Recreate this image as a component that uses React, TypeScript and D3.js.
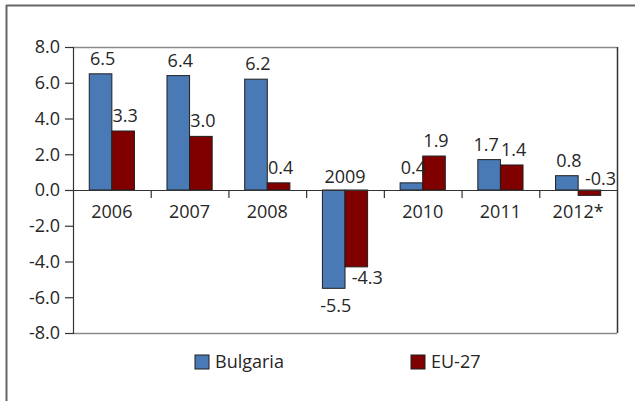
import React from "react";
import * as d3 from "d3";

const categories = ["2006", "2007", "2008", "2009", "2010", "2011", "2012*"];
const seriesNames = ["Bulgaria", "EU-27"];
const bulgaria = [6.5, 6.4, 6.2, -5.5, 0.4, 1.7, 0.8];
const eu27 = [3.3, 3.0, 0.4, -4.3, 1.9, 1.4, -0.3];
const yTicks = [8, 6, 4, 2, 0, -2, -4, -6, -8];

const colors = ["#4a7ab5", "#800000"];
const W = 635, H = 401;
const plot = { left: 73, right: 617, top: 47, bottom: 333 };
const FONT = "'Open Sans', 'DejaVu Sans', sans-serif";
const TXT = "#262626";
const fmt = (v: number) => v.toFixed(1);

// manual label nudges (layout only)
const nudges: Record<string, { dx: number; dy: number }> = {
  "2009|EU-27": { dx: 9, dy: -7 },
  "2012*|EU-27": { dx: 9, dy: -34 },
  "2011|Bulgaria": { dx: -5, dy: 0 },
};

export default function App() {
  const y = d3.scaleLinear().domain([-8, 8]).range([plot.bottom, plot.top]);
  const x = d3.scaleBand().domain(categories).range([plot.left, plot.right]).padding(0);
  const x1 = d3.scaleBand().domain(seriesNames).range([0, x.bandwidth()]).paddingInner(0).paddingOuter(0.72);
  const series = [bulgaria, eu27];
  const y0 = y(0);

  return (
    <svg width={W} height={H} style={{ position: "absolute", left: 0, top: 0, background: "#fff" }} fontFamily={FONT}>
      {/* outer frame */}
      <line x1={6.5} x2={6.5} y1={5} y2={H} stroke="#666" strokeWidth={2} />
      <line x1={6} x2={W} y1={5.5} y2={5.5} stroke="#666" strokeWidth={2} />

      {/* plot border */}
      <line x1={plot.left} x2={plot.right} y1={plot.top + 0.5} y2={plot.top + 0.5} stroke="#8a8a8a" strokeWidth={1.5} />
      <line x1={plot.left} x2={plot.right} y1={plot.bottom + 0.5} y2={plot.bottom + 0.5} stroke="#8a8a8a" strokeWidth={1.5} />
      <line x1={plot.right + 0.5} x2={plot.right + 0.5} y1={plot.top} y2={plot.bottom} stroke="#333" strokeWidth={1.5} />

      {/* bars */}
      {categories.map((c, i) =>
        seriesNames.map((s, j) => {
          const v = series[j][i];
          const bx = (x(c) as number) + (x1(s) as number);
          const top = Math.min(y(v), y0);
          const h = Math.abs(y(v) - y0);
          return (
            <rect key={c + s} x={bx} y={top} width={x1.bandwidth()} height={h}
              fill={colors[j]} stroke="#1f1f1f" strokeWidth={1} />
          );
        })
      )}

      {/* y axis */}
      <line x1={plot.left + 0.5} x2={plot.left + 0.5} y1={plot.top} y2={plot.bottom + 1} stroke="#333" strokeWidth={1.2} />
      {yTicks.map((t) => (
        <g key={t}>
          <line x1={65} x2={plot.left} y1={y(t) + 0.5} y2={y(t) + 0.5} stroke="#333" strokeWidth={1.2} />
          <text x={60} y={y(t)} dy="0.35em" textAnchor="end" fontSize={18} fill={TXT}>
            {fmt(t)}
          </text>
        </g>
      ))}

      {/* zero line + category ticks */}
      <line x1={plot.left} x2={plot.right} y1={y0 + 0.5} y2={y0 + 0.5} stroke="#333" strokeWidth={1.2} />
      {categories.slice(1).map((c) => (
        <line key={c} x1={(x(c) as number) + 0.5} x2={(x(c) as number) + 0.5} y1={y0} y2={y0 + 8} stroke="#333" strokeWidth={1.2} />
      ))}

      {/* category labels */}
      {categories.map((c, i) => {
        const neg = bulgaria[i] < 0 && eu27[i] < 0;
        return (
          <text key={c} x={(x(c) as number) + x.bandwidth() / 2} y={neg ? y0 - 7 : y0 + 28}
            textAnchor="middle" fontSize={18} fill={TXT}>
            {c}
          </text>
        );
      })}

      {/* value labels */}
      {categories.map((c, i) =>
        seriesNames.map((s, j) => {
          const v = series[j][i];
          const cx = (x(c) as number) + (x1(s) as number) + x1.bandwidth() / 2 + 2;
          const yy = v >= 0 ? y(v) - 9 : y(v) + 24;
          const n = nudges[c + "|" + s] || { dx: 0, dy: 0 };
          return (
            <text key={"l" + c + s} x={cx + n.dx} y={yy + n.dy} textAnchor="middle" fontSize={18} fill={TXT}>
              {fmt(v)}
            </text>
          );
        })
      )}

      {/* legend */}
      {seriesNames.map((s, j) => {
        const lx = j === 0 ? 195 : 411;
        return (
          <g key={s}>
            <rect x={lx} y={355} width={14} height={14} fill={colors[j]} stroke="#1f1f1f" strokeWidth={1} />
            <text x={lx + 20} y={362} dy="0.35em" fontSize={18} fill={TXT}>{s}</text>
          </g>
        );
      })}
    </svg>
  );
}
